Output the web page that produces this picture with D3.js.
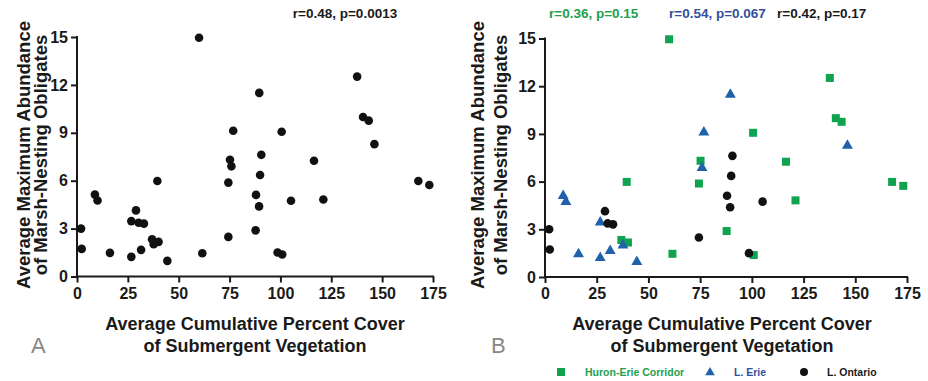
<!DOCTYPE html>
<html>
<head>
<meta charset="utf-8">
<script src="https://cdn.jsdelivr.net/npm/d3@7"></script>
<style>
  body { margin: 0; background: #fff; }
  svg { display: block; font-family: "Liberation Sans", Arial, sans-serif; }
  .axis path, .axis line { stroke: #1a1a1a; stroke-width: 2px; }
  .axis text { font-size: 16px; font-weight: bold; fill: #1a1a1a; }
</style>
</head>
<body>
<svg id="chart" width="928" height="381"></svg>
<script>
// x = avg cumulative % cover of submergent vegetation, y = avg max abundance
const huronErie = [
  [60, 14.95], [100.6, 9.07], [75.2, 7.31], [74.4, 5.88], [39.5, 5.98],
  [87.8, 2.89], [36.9, 2.33], [40.1, 2.17], [61.6, 1.46], [100.9, 1.38],
  [137.7, 12.52], [140.6, 9.99], [143.4, 9.76], [116.5, 7.25], [121.1, 4.82],
  [167.8, 5.98], [173.2, 5.73]
];
const lakeErie = [
  [89.6, 11.5], [76.8, 9.13], [75.9, 6.9], [8.8, 5.13], [10.1, 4.76],
  [26.7, 3.47], [37.7, 2.02], [31.5, 1.67], [16.2, 1.48], [26.7, 1.23],
  [44.4, 0.98], [146.2, 8.29]
];
const lakeOntario = [
  [90.6, 7.62], [90, 6.36], [88, 5.11], [89.5, 4.39], [105.2, 4.74],
  [29, 4.14], [30.3, 3.37], [32.9, 3.31], [2, 3.0], [74.4, 2.48],
  [2.3, 1.73], [98.6, 1.5]
];
const xTicks = [0, 25, 50, 75, 100, 125, 150, 175];
const yTicks = [0, 3, 6, 9, 12, 15];
const groupNames = ['Huron-Erie Corridor', 'L. Erie', 'L. Ontario'];
const statsAll = 'r=0.48, p=0.0013';
const statsGroups = ['r=0.36, p=0.15', 'r=0.54, p=0.067', 'r=0.42, p=0.17'];

const green = '#0fa34f', blue = '#1f62aa', black = '#111';
const textGreen = '#1f9e4e', textBlue = '#34509c';

const svg = d3.select('#chart');

function drawPanel(o) {
  const x = d3.scaleLinear().domain([0, 175]).range([o.x0, o.x1]);
  const y = d3.scaleLinear().domain([0, 15]).range([o.y0, o.y1]);
  const g = svg.append('g');

  g.append('g')
    .attr('class', 'axis')
    .attr('transform', `translate(0,${o.y0})`)
    .call(d3.axisBottom(x).tickValues(xTicks).tickSize(6).tickSizeOuter(0).tickPadding(5))
    .call(a => a.select('.domain').attr('d', `M${o.x0 - 1},0H${o.x1 + 1}`));

  g.append('g')
    .attr('class', 'axis')
    .attr('transform', `translate(${o.x0},0)`)
    .call(d3.axisLeft(y).tickValues(yTicks).tickSize(6).tickSizeOuter(0).tickPadding(3))
    .call(a => a.select('.domain').attr('d', `M0,${o.y0 + 1}V${o.y1 - 1}`));

  // y title (two lines)
  const yt = g.append('text')
    .attr('transform', `translate(0,${o.yTitleY}) rotate(-90)`)
    .attr('text-anchor', 'middle')
    .style('font-size', '18.5px')
    .style('font-weight', 'bold')
    .style('fill', '#1a1a1a');
  yt.append('tspan').attr('x', 0).attr('y', o.yTitleX[0]).text('Average Maximum Abundance');
  yt.append('tspan').attr('x', 0).attr('y', o.yTitleX[1]).text('of Marsh-Nesting Obligates');

  // x title (two lines)
  const xt = g.append('text')
    .attr('text-anchor', 'middle')
    .style('font-size', '18px')
    .style('font-weight', 'bold')
    .style('fill', '#1a1a1a');
  xt.append('tspan').attr('x', o.xTitleX).attr('y', 330).text('Average Cumulative Percent Cover');
  xt.append('tspan').attr('x', o.xTitleX).attr('y', 352).text('of Submergent Vegetation');

  // panel letter
  g.append('text')
    .attr('x', o.letterX)
    .attr('y', 353)
    .style('font-size', '22px')
    .style('fill', '#888')
    .text(o.letter);

  return { g, x, y };
}

function drawSquares(g, data, x, y, color) {
  g.selectAll(null).data(data).enter().append('rect')
    .attr('x', d => x(d[0]) - 4)
    .attr('y', d => y(d[1]) - 4)
    .attr('width', 8)
    .attr('height', 8)
    .attr('fill', color);
}

function drawTriangles(g, data, x, y, color) {
  const sym = d3.symbol().type(d3.symbolTriangle).size(52);
  g.selectAll(null).data(data).enter().append('path')
    .attr('transform', d => `translate(${x(d[0])},${y(d[1]) + 0.5})`)
    .attr('d', sym)
    .attr('fill', color);
}

function drawCircles(g, data, x, y, color) {
  g.selectAll(null).data(data).enter().append('circle')
    .attr('cx', d => x(d[0]))
    .attr('cy', d => y(d[1]))
    .attr('r', 4.3)
    .attr('fill', color);
}

// panel A: all sites pooled
const A = drawPanel({
  x0: 77, x1: 433, y0: 276.5, y1: 37,
  yTitleY: 155, yTitleX: [30, 47], xTitleX: 255, letterX: 31, letter: 'A'
});
drawCircles(A.g, huronErie.concat(lakeErie, lakeOntario), A.x, A.y, black);
A.g.append('text')
  .attr('x', 345).attr('y', 18)
  .attr('text-anchor', 'middle')
  .style('font-size', '13.5px').style('font-weight', 'bold').style('fill', '#1a1a1a')
  .text(statsAll);

// panel B: by region
const B = drawPanel({
  x0: 545, x1: 907, y0: 277, y1: 38.5,
  yTitleY: 155, yTitleX: [484, 507], xTitleX: 722, letterX: 491, letter: 'B'
});
drawSquares(B.g, huronErie, B.x, B.y, green);
drawTriangles(B.g, lakeErie, B.x, B.y, blue);
drawCircles(B.g, lakeOntario, B.x, B.y, black);

const statX = [549, 669, 777];
const statColors = [textGreen, textBlue, '#1a1a1a'];
B.g.selectAll(null).data(statsGroups).enter().append('text')
  .attr('x', (d, i) => statX[i]).attr('y', 18)
  .style('font-size', '13.5px').style('font-weight', 'bold')
  .style('fill', (d, i) => statColors[i])
  .text(d => d);

// legend
const legend = B.g.append('g').attr('transform', 'translate(0,372)');
const markX = [561, 710, 804];
const labelX = [585, 734, 827];
legend.append('rect').attr('x', markX[0] - 4).attr('y', -4).attr('width', 8).attr('height', 8).attr('fill', green);
legend.append('path').attr('transform', `translate(${markX[1]},0.5)`)
  .attr('d', d3.symbol().type(d3.symbolTriangle).size(40)).attr('fill', blue);
legend.append('circle').attr('cx', markX[2]).attr('cy', 0).attr('r', 4).attr('fill', black);
legend.selectAll('text').data(groupNames).enter().append('text')
  .attr('x', (d, i) => labelX[i]).attr('y', 4)
  .style('font-size', '10.5px').style('font-weight', 'bold')
  .style('fill', (d, i) => [textGreen, textBlue, '#1a1a1a'][i])
  .text(d => d);
</script>
</body>
</html>
